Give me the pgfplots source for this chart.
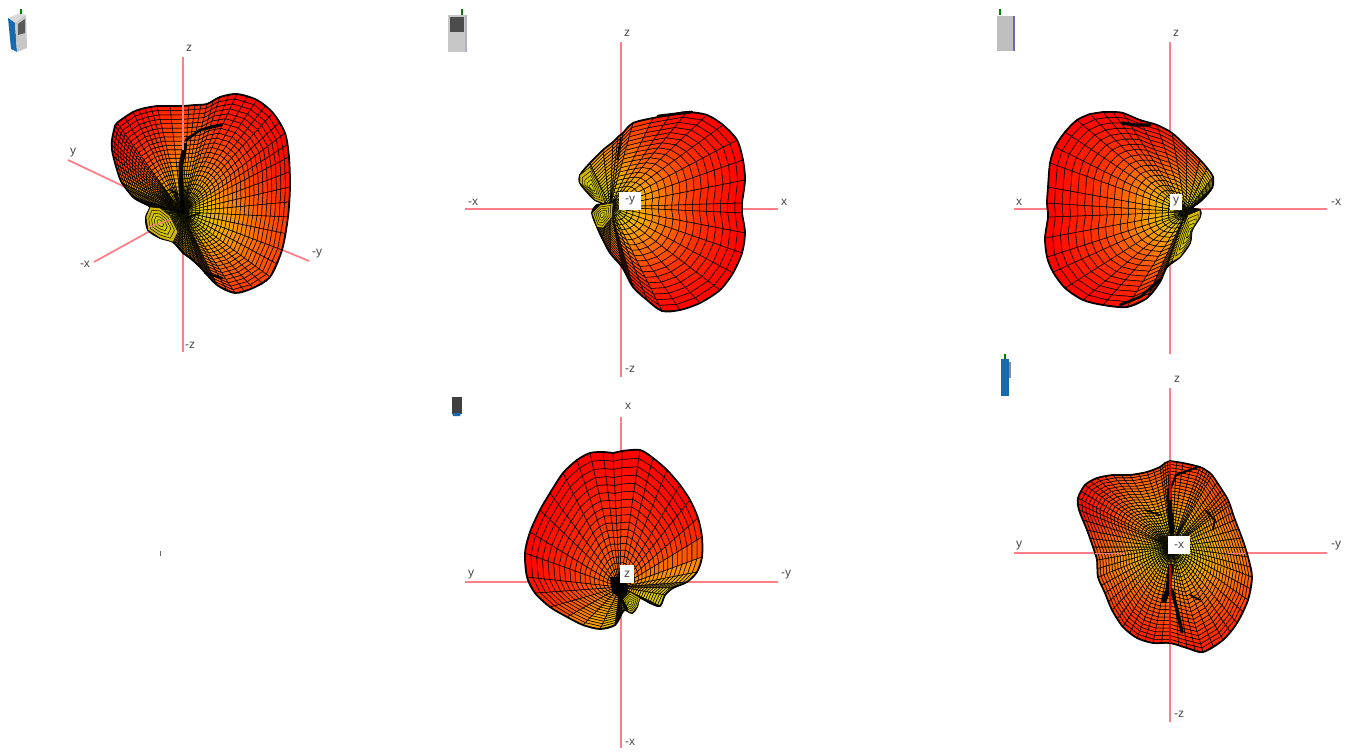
\documentclass[border=0pt]{standalone}
\usepackage{pgfplots}
\usepackage{pgfplotstable}
\usepackage{fontspec}
\setmainfont{Liberation Sans}
\pgfplotsset{compat=1.18}
\definecolor{axred}{RGB}{255,125,135}
\definecolor{lem}{RGB}{205,215,0}
\definecolor{lab}{RGB}{70,70,70}

\pgfplotstableread{
x y c
182 212 100
183 106 30
195 105 30
207 104 30
220 97 15
237 94 0
257 100 0
273 113 0
285 133 0
289 157 5
290 187 20
288 217 35
282 250 40
270 277 40
253 288 35
235 293 35
217 285 45
200 267 60
190 258 70
183 253 75
173 242 80
160 238 85
148 230 90
146 217 95
150 207 95
141 202 85
133 197 75
122 183 65
118 173 45
115 163 30
112 150 10
112 140 5
114 130 0
117 123 0
133 112 0
145 108 5
157 106 15
}\blobA

\pgfplotstableread{
x y c
610 207 100
623 133 45
633 123 40
653 118 25
670 115 10
687 112 0
707 115 0
723 125 0
737 140 0
743 160 0
745 180 0
742 203 0
742 213 0
745 233 0
742 253 0
733 273 0
720 290 0
700 303 0
680 310 0
662 311 5
647 300 10
633 287 20
622 267 35
610 253 50
602 238 70
597 227 95
592 213 100
597 205 100
605 204 100
595 200 100
587 192 95
580 183 95
580 175 90
590 163 75
603 150 65
613 142 55
618 137 50
}\blobB

\pgfplotstableread{
x y c
1186 212 100
1103 112 0
1113 112 0
1123 113 0
1140 120 0
1157 125 15
1172 133 20
1187 147 35
1200 160 50
1207 168 70
1213 177 85
1212 188 90
1202 200 95
1192 208 100
1200 210 100
1200 217 100
1192 230 100
1190 243 100
1180 257 90
1167 267 70
1160 282 40
1147 298 30
1127 307 20
1103 305 0
1083 300 0
1065 288 0
1053 272 0
1047 257 0
1045 238 0
1048 217 0
1047 203 0
1048 187 0
1050 163 0
1055 147 0
1065 132 0
1077 120 0
1090 114 0
}\blobC

\pgfplotstableread{
x y c
620 587 70
622 451 0
640 450 0
653 458 0
667 470 0
680 485 0
690 500 0
698 518 15
702 537 30
702 557 55
697 572 70
687 582 80
673 588 85
665 595 90
660 606 95
650 603 95
640 598 100
637 607 100
632 613 100
625 610 100
622 613 90
615 625 85
600 629 75
583 625 65
567 617 50
550 607 35
535 593 15
527 577 5
525 553 0
530 532 0
540 510 0
550 493 0
563 473 0
577 460 0
590 453 0
603 452 0
613 453 0
}\blobD

\pgfplotstableread{
x y c
1172 547 100
1170 461 35
1183 463 30
1200 467 35
1207 471 40
1212 475 40
1222 490 40
1227 498 45
1230 505 48
1235 520 50
1242 538 55
1248 557 55
1252 577 50
1248 600 40
1237 623 30
1223 640 25
1203 652 20
1187 648 20
1170 643 30
1153 643 20
1137 638 20
1123 627 25
1112 610 35
1105 593 45
1098 577 50
1097 560 50
1093 547 45
1087 530 30
1079 510 10
1078 498 5
1085 485 10
1097 478 25
1113 475 40
1130 475 45
1147 472 45
1160 467 42
1165 463 38
}\blobE

\pgfplotstableread{
x y
605 204
595 200
580 183
580 175
590 167
600 187
}\lobeBa
\pgfplotstableread{
x y
613 203
600 205
592 213
597 227
603 228
612 217
}\lobeBb
\pgfplotstableread{
x y
170 216
160 208
150 207
146 217
148 230
160 238
173 242
178 232
}\lobeAa
\pgfplotstableread{
x y
1200 210
1200 217
1192 230
1190 243
1180 257
1172 262
1180 235
1188 215
}\lobeCa
\pgfplotstableread{
x y
630 592
640 598
637 607
632 613
625 610
622 600
}\lobeDa

% #1 table, #2 #3 focus, #4 rings, #5 ring spacing power, #6 colour value at the focus,
% #7 = 2 draws a meridian halfway between the outline points as well
\newcommand{\pushpt}[3]{%
  \pgfmathsetmacro\X{\fx+\tk*(#1-\fx)}%
  \pgfmathsetmacro\Y{\fy+\tk*(#2-\fy)}%
  \pgfmathsetmacro\M{\fc+\wk*(#3-\fc)}%
  \xdef\meshlist{\meshlist (\X,\Y) [\M] }%
}
\newcommand{\fan}[7]{%
  \gdef\meshlist{}%
  \def\fx{#2}\def\fy{#3}\def\fc{#6}%
  \pgfplotsforeachungrouped \i in {1,...,36}{%
    \pgfplotstablegetelem{\i}{x}\of{#1}\expandafter\let\csname tx\i\endcsname\pgfplotsretval
    \pgfplotstablegetelem{\i}{y}\of{#1}\expandafter\let\csname ty\i\endcsname\pgfplotsretval
    \pgfplotstablegetelem{\i}{c}\of{#1}\expandafter\let\csname tc\i\endcsname\pgfplotsretval
  }%
  \expandafter\let\csname tx37\expandafter\endcsname\csname tx1\endcsname
  \expandafter\let\csname ty37\expandafter\endcsname\csname ty1\endcsname
  \expandafter\let\csname tc37\expandafter\endcsname\csname tc1\endcsname
  \pgfplotsforeachungrouped \k in {0,...,#4}{%
    \pgfmathsetmacro\tk{((\k+0.02)/#4)^#5}%
    \pgfmathsetmacro\wk{\k/#4}%
    \pgfplotsforeachungrouped \i in {1,...,36}{%
      \edef\jj{\the\numexpr\i+1\relax}%
      \pushpt{\csname tx\i\endcsname}{\csname ty\i\endcsname}{\csname tc\i\endcsname}%
      \ifnum#7=2
        \pushpt{(\csname tx\i\endcsname+\csname tx\jj\endcsname)/2}{(\csname ty\i\endcsname+\csname ty\jj\endcsname)/2}{(\csname tc\i\endcsname+\csname tc\jj\endcsname)/2}%
      \fi
    }%
    \pushpt{\csname tx37\endcsname}{\csname ty37\endcsname}{\csname tc37\endcsname}%
  }%
  \def\doplot{\addplot[surf,shader=faceted,faceted color=black,line width=.4pt,
     mesh/rows=\the\numexpr#4+1\relax,mesh/cols=\the\numexpr36*#7+1\relax,mesh/ordering=x varies,point meta=explicit] coordinates}%
  \expandafter\doplot\expandafter{\meshlist};
  \addplot[black,line width=1.3pt,no markers,smooth,tension=.5,line join=round,skip coords between index={0}{1}] table[x=x,y=y] {#1} -- cycle;
}
\newcommand{\lobe}[3]{%
  \pgfplotsinvokeforeach{85,88,91,94,97}{%
    \addplot[fill=lem!##1!red,draw=black,line width=.35pt,no markers]
      table[x expr={#2+(100-##1)/15*(\thisrow{x}-#2)},y expr={#3+(100-##1)/15*(\thisrow{y}-#3)}] {#1} -- cycle;
  }%
}
\newcommand{\poly}[2]{\addplot[#1,draw=none,no markers] coordinates {#2} -- cycle;}
\newcommand{\seg}[2]{\addplot[#1,no markers] coordinates {#2};}

\begin{document}
\begin{tikzpicture}
\path[use as bounding box] (0,0) rectangle (1011pt,564pt);
\begin{axis}[
  at={(0pt,0pt)},anchor=south west,
  scale only axis,width=1011pt,height=564pt,
  xmin=0,xmax=1348,ymin=0,ymax=752,y dir=reverse,
  hide axis,
  colormap={rad}{rgb255(0)=(255,0,0) rgb255(30)=(255,45,0) rgb255(50)=(255,95,0) rgb255(70)=(250,160,0) rgb255(85)=(230,200,0) rgb255(100)=(195,205,0)},
  point meta min=0,point meta max=100,
  every axis plot/.append style={forget plot},
]
% red axes
\seg{axred,line width=1.5pt}{(183,57) (183,352)}
\seg{axred,line width=1.3pt}{(68,160) (125,187)}
\seg{axred,line width=1.3pt}{(94,262) (170,220)}
\seg{axred,line width=1.3pt}{(280,249) (309,261)}
\seg{axred,line width=1.5pt}{(621,42) (621,377)}
\seg{axred,line width=1.5pt}{(465,209) (778,209)}
\seg{axred,line width=1.2pt}{(1170,42) (1170,354)}
\seg{axred,line width=1.2pt}{(1014,209) (1327,209)}
\seg{axred,line width=1.5pt}{(621,417) (621,748)}
\seg{axred,line width=1.5pt}{(465,582) (778,582)}
\seg{axred,line width=1.2pt}{(1170,388) (1170,722)}
\seg{axred,line width=1.2pt}{(1014,553) (1327,553)}

% patterns
\fan{\blobA}{182}{212}{26}{1.1}{100}{2}
\fan{\blobB}{610}{207}{20}{1.1}{100}{1}
\fan{\blobC}{1186}{212}{20}{1.1}{100}{1}
\fan{\blobD}{620}{587}{20}{1.25}{70}{1}
\fan{\blobE}{1172}{547}{28}{1.1}{100}{2}

% small side lobes
\lobe{\lobeBa}{592}{188}
\lobe{\lobeBb}{602}{215}
\lobe{\lobeAa}{160}{223}
\lobe{\lobeCa}{1190}{232}
\lobe{\lobeDa}{630}{603}

% folds
\seg{black,line width=3.5pt,line cap=round}{(185,145) (181,165) (181,190) (183,212)}
\seg{black,line width=2pt,line cap=round}{(186,140) (200,130) (221,125)}
\seg{black,line width=1.2pt,line cap=round}{(170,190) (178,194)}
\seg{black,line width=1.2pt,line cap=round}{(186,218) (200,213)}
\seg{black,line width=1.5pt,line cap=round}{(205,273) (222,278)}
\seg{axred,line width=.8pt}{(183,105) (183,150)}
\seg{axred,line width=.8pt}{(148,227) (170,220)}
\seg{black,line width=2pt,line cap=round}{(658,116) (675,114) (692,112)}
\seg{black,line width=1.2pt}{(621,137) (617,160)}
\seg{black,line width=2.5pt,line cap=round}{(1122,123) (1135,125) (1150,125)}
\seg{black,line width=2pt,line cap=round}{(1160,280) (1140,297) (1120,305)}
\poly{black,fill=black}{(610,577) (625,577) (628,590) (622,600) (612,592)}
\seg{black,line width=2pt,line cap=round}{(622,600) (627,610)}
\seg{black,line width=3.5pt,line cap=round}{(1169,490) (1170,510) (1172,532)}
\seg{black,line width=1.5pt,line cap=round}{(1170,490) (1176,475) (1198,467)}
\seg{black,line width=4pt,line cap=round}{(1171,566) (1168,590) (1164,600)}
\seg{black,line width=2.5pt,line cap=round}{(1172,590) (1177,610) (1182,632)}
\seg{black,line width=1.2pt,line cap=round}{(1145,510) (1160,515)}
\seg{black,line width=1.2pt,line cap=round}{(1190,595) (1200,600)}
\seg{black,line width=1.2pt,line cap=round}{(1205,510) (1215,520) (1213,530)}
\seg{red!80!black,line width=.8pt}{(1170,461) (1170,500)}
\seg{red!80!black,line width=.8pt}{(1170,565) (1170,643)}
\seg{axred,line width=.7pt}{(1095,553) (1125,553)}
\seg{axred,line width=.7pt}{(1228,553) (1245,553)}

% handset icons
\poly{fill=black!15}{(8,18) (20,13) (26,15) (15,23)}
\poly{fill={rgb,255:red,25;green,105;blue,175}}{(8,18) (15,23) (17,52) (11,49)}
\poly{fill=black!22}{(15,23) (26,15) (27,48) (17,52)}
\poly{fill=black!65}{(18,24) (25,19) (25,33) (18,35)}
\seg{black!50!green,line width=1.2pt}{(21,9) (21,14)}
\poly{fill=black!22}{(448,15) (466,15) (466,52) (448,52)}
\poly{fill=black!70}{(450,17) (464,17) (464,32) (450,32)}
\seg{black!50!green,line width=1.2pt}{(462,9) (462,15)}
\seg{blue!30!black!30,line width=.8pt}{(466,15) (466,52)}
\poly{fill=black!25}{(997,16) (1014,16) (1014,51) (997,51)}
\seg{blue!50!black!60,line width=.8pt}{(1014,16) (1014,51)}
\seg{black!50!green,line width=1.2pt}{(1000,9) (1000,15)}
\poly{fill=black!75}{(452,397) (462,397) (462,414) (452,414)}
\poly{fill={rgb,255:red,25;green,105;blue,175}}{(452,413) (461,413) (460,416) (453,416)}
\poly{fill={rgb,255:red,25;green,105;blue,175}}{(1001,359) (1009,359) (1009,396) (1001,396)}
\poly{fill=black!45}{(1009,362) (1011,362) (1011,378) (1009,378)}
\seg{black!50!green,line width=1.2pt}{(1005,354) (1005,359)}
\seg{black!60,line width=.5pt}{(160,551) (160,556)}

% labels
\begin{scope}[every node/.style={font=\fontsize{9}{10}\selectfont,text=lab,inner sep=1pt}]
\node at (axis cs:189,48) {z};
\node at (axis cs:73,153) {y};
\node at (axis cs:85,264) {-x};
\node at (axis cs:317,254) {-y};
\node at (axis cs:190,345) {-z};
\node at (axis cs:627,33) {z};
\node at (axis cs:473,202) {-x};
\node at (axis cs:784,202) {x};
\node at (axis cs:630,369) {-z};
\node[fill=white,minimum width=16pt,minimum height=13pt] at (axis cs:630,201) {-y};
\node at (axis cs:1176,33) {z};
\node at (axis cs:1019,202) {x};
\node at (axis cs:1336,202) {-x};
\node[fill=white,minimum width=9pt,minimum height=12pt] at (axis cs:1176,202) {y};
\node at (axis cs:628,406) {x};
\node at (axis cs:471,575) {y};
\node at (axis cs:786,575) {-y};
\node at (axis cs:630,742) {-x};
\node[fill=white,minimum width=10pt,minimum height=14pt] at (axis cs:627,574) {z};
\node at (axis cs:1177,379) {z};
\node at (axis cs:1019,546) {y};
\node at (axis cs:1336,546) {-y};
\node at (axis cs:1179,714) {-z};
\node[fill=white,minimum width=17pt,minimum height=14pt] at (axis cs:1179,545) {-x};
\end{scope}
\end{axis}
\end{tikzpicture}
\end{document}
